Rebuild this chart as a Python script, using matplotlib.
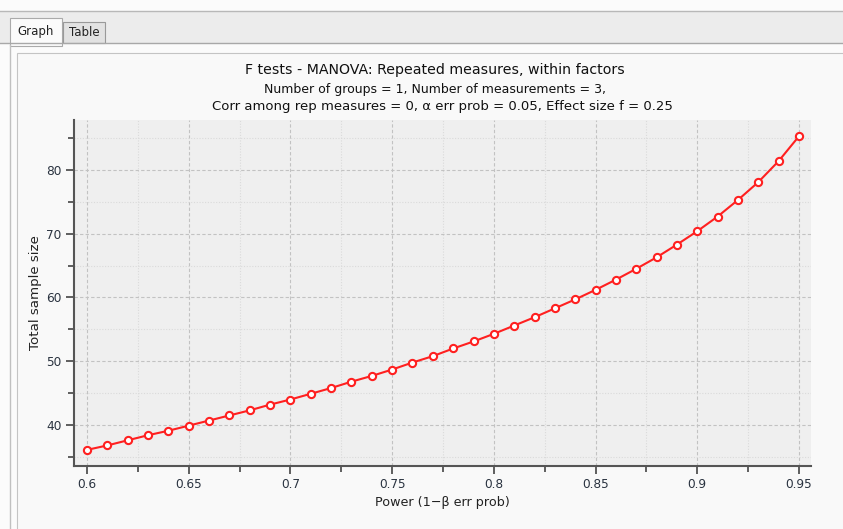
import matplotlib.pyplot as plt
from matplotlib.patches import Rectangle
from matplotlib.ticker import MultipleLocator, FuncFormatter

power = [0.60, 0.61, 0.62, 0.63, 0.64, 0.65, 0.66, 0.67, 0.68, 0.69,
         0.70, 0.71, 0.72, 0.73, 0.74, 0.75, 0.76, 0.77, 0.78, 0.79,
         0.80, 0.81, 0.82, 0.83, 0.84, 0.85, 0.86, 0.87, 0.88, 0.89,
         0.90, 0.91, 0.92, 0.93, 0.94, 0.95]
sample_size = [36.1, 36.8, 37.6, 38.4, 39.1, 39.9, 40.7, 41.5, 42.3, 43.2,
               44.0, 44.9, 45.8, 46.8, 47.7, 48.7, 49.8, 50.8, 52.0, 53.1,
               54.3, 55.6, 56.9, 58.3, 59.7, 61.2, 62.8, 64.5, 66.3, 68.3,
               70.4, 72.7, 75.3, 78.1, 81.4, 85.3]

title_lines = ["F tests - MANOVA: Repeated measures, within factors",
               "Number of groups = 1, Number of measurements = 3,",
               "Corr among rep measures = 0, \u03b1 err prob = 0.05, Effect size f = 0.25"]

W, H = 843, 529
fig = plt.figure(figsize=(W / 100, H / 100), dpi=100)
fig.patch.set_facecolor("#fbfbfb")


def px_rect(x0, y0, x1, y1, **kw):
    # rectangle in pixel coords (top-left origin)
    fig.patches.append(Rectangle((x0 / W, 1 - y1 / H), (x1 - x0) / W, (y1 - y0) / H,
                                 transform=fig.transFigure, figure=fig, zorder=-1, **kw))


# window chrome: tab strip and panel
px_rect(0, 11, W, 43, facecolor="#ececec", edgecolor="none")
fig.add_artist(plt.Line2D([0, 1], [1 - 11 / H, 1 - 11 / H], transform=fig.transFigure, color="#b8b8b8", lw=1))
fig.add_artist(plt.Line2D([0, 1], [1 - 43 / H, 1 - 43 / H], transform=fig.transFigure, color="#a8a8a8", lw=1))
px_rect(10, 18, 62, 46, facecolor="#fbfbfb", edgecolor="#aaaaaa", lw=0.8)
px_rect(63, 22, 105, 43, facecolor="#e2e2e2", edgecolor="#999999", lw=0.8)
fig.text(36 / W, 1 - 31 / H, "Graph", ha="center", va="center", fontsize=8.5, color="#222222")
fig.text(84 / W, 1 - 33 / H, "Table", ha="center", va="center", fontsize=8.5, color="#222222")
fig.add_artist(plt.Line2D([10 / W, 10 / W], [0, 1 - 45 / H], transform=fig.transFigure, color="#c0c0c0", lw=1))
px_rect(17, 53, W + 5, H + 5, facecolor="#f9f9f9", edgecolor="#c4c4c4", lw=0.8)

ax = fig.add_axes([74 / W, 1 - 466 / H, (811 - 74) / W, (466 - 120) / H])
ax.set_zorder(3)
ax.set_facecolor("#efefef")

ax.plot(power, sample_size, color="#ff2020", lw=1.5, marker="o", markersize=5.2,
        markerfacecolor="white", markeredgecolor="#ff2020", markeredgewidth=1.5, zorder=3)

ax.set_xlim(0.5936, 0.9559)
ax.set_ylim(33.57, 87.84)
ax.xaxis.set_major_locator(MultipleLocator(0.05))
ax.xaxis.set_minor_locator(MultipleLocator(0.025))
ax.yaxis.set_major_locator(MultipleLocator(10))
ax.yaxis.set_minor_locator(MultipleLocator(5))
ax.xaxis.set_major_formatter(FuncFormatter(lambda v, p: f"{v:.2f}".rstrip("0").rstrip(".")))

ax.grid(which="major", color="#c2c2c2", ls=(0, (3, 2)), lw=0.8)
ax.grid(which="minor", color="#dadada", ls=(0, (1, 1.5)), lw=0.8)
ax.set_axisbelow(True)

for s in ["top", "right"]:
    ax.spines[s].set_visible(False)
for s in ["left", "bottom"]:
    ax.spines[s].set_color("#555555")
    ax.spines[s].set_linewidth(1.5)

ax.tick_params(which="major", length=6, width=1.2, color="#444444", labelsize=8.7,
               labelcolor="#2a3340", pad=3)
ax.tick_params(which="minor", length=4, width=1.2, color="#444444")

ax.set_xlabel("Power (1\u2212\u03b2 err prob)", fontsize=9.2, color="#222222", labelpad=3)
ax.set_ylabel("Total sample size", fontsize=9.6, color="#222222", labelpad=3)

fig.text(435 / W, 1 - 70 / H, title_lines[0], ha="center", va="center", fontsize=10.2, color="#111111")
fig.text(435 / W, 1 - 90 / H, title_lines[1], ha="center", va="center", fontsize=9.0, color="#111111")
fig.text(442 / W, 1 - 107 / H, title_lines[2], ha="center", va="center", fontsize=9.5, color="#111111")

fig.savefig("out.png", dpi=100, facecolor=fig.get_facecolor())
